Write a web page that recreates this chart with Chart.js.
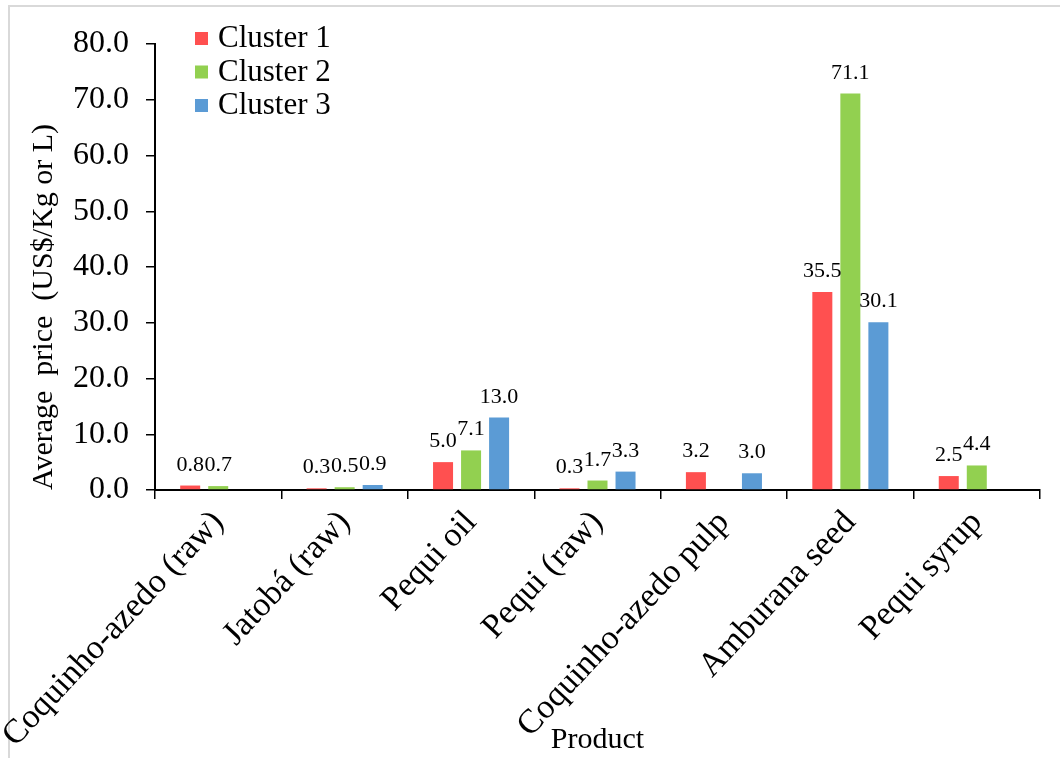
<!DOCTYPE html>
<html>
<head>
<meta charset="utf-8">
<script src="https://cdn.jsdelivr.net/npm/chart.js@4.4.1/dist/chart.umd.min.js"></script>
<style>
  html, body { margin: 0; padding: 0; background: #ffffff; }
  #wrap { position: relative; width: 1060px; height: 758px; overflow: hidden; background: #ffffff; }
  #frame { position: absolute; left: 8px; top: 5px; width: 1100px; height: 800px;
           border-left: 2px solid #d9d9d9; border-top: 2px solid #d9d9d9; box-sizing: border-box; }
  #chart { position: absolute; left: 0; top: 0; }
</style>
</head>
<body>
<div id="wrap">
  <div id="frame"></div>
  <canvas id="chart" width="1060" height="758"></canvas>
</div>
<script>
// Average price per product, by cluster (US$ per Kg or L)
const products = [
  'Coquinho-azedo (raw)',
  'Jatobá (raw)',
  'Pequi oil',
  'Pequi (raw)',
  'Coquinho-azedo pulp',
  'Amburana seed',
  'Pequi syrup'
];
const seriesNames = ['Cluster 1', 'Cluster 2', 'Cluster 3'];
const cluster1 = [0.8, 0.3, 5.0, 0.3, 3.2, 35.5, 2.5];
const cluster2 = [0.7, 0.5, 7.1, 1.7, null, 71.1, 4.4];
const cluster3 = [null, 0.9, 13.0, 3.3, 3.0, 30.1, null];
const yTicks = [0, 10, 20, 30, 40, 50, 60, 70, 80];

const seriesColors = ['#ff5050', '#92d050', '#5b9bd5'];
const SERIF = '"Liberation Serif", "Times New Roman", serif';

// Value printed above each bar
const valueLabels = {
  id: 'valueLabels',
  afterDatasetsDraw(chart) {
    const ctx = chart.ctx;
    ctx.save();
    ctx.font = '22px ' + SERIF;
    ctx.fillStyle = '#000';
    ctx.textAlign = 'center';
    ctx.textBaseline = 'alphabetic';
    chart.data.datasets.forEach((ds, di) => {
      const meta = chart.getDatasetMeta(di);
      meta.data.forEach((bar, i) => {
        const v = ds.data[i];
        if (v === null || v === undefined) return;
        ctx.fillText(v.toFixed(1), bar.x, bar.y - 15);
      });
    });
    ctx.restore();
  }
};

// Legend drawn inside the plot, top-left
const innerLegend = {
  id: 'innerLegend',
  afterDraw(chart) {
    const ctx = chart.ctx;
    const area = chart.chartArea;
    const x0 = area.left + 40;
    const y0 = area.top - 12;
    const step = 33.5;
    ctx.save();
    ctx.font = '31px ' + SERIF;
    ctx.textAlign = 'left';
    ctx.textBaseline = 'alphabetic';
    chart.data.datasets.forEach((ds, i) => {
      const yTop = y0 + i * step;
      ctx.fillStyle = ds.backgroundColor;
      ctx.fillRect(x0, yTop, 13, 13);
      ctx.fillStyle = '#000';
      ctx.fillText(ds.label, x0 + 23, yTop + 15);
    });
    ctx.restore();
  }
};

const datasets = [cluster1, cluster2, cluster3].map((vals, i) => ({
  label: seriesNames[i],
  data: vals,
  backgroundColor: seriesColors[i],
  borderWidth: 0,
  categoryPercentage: 0.665,
  barPercentage: 0.714
}));

new Chart(document.getElementById('chart'), {
  type: 'bar',
  data: { labels: products, datasets },
  plugins: [valueLabels, innerLegend],
  options: {
    responsive: false,
    animation: false,
    devicePixelRatio: 1,
    layout: { padding: { left: 0, top: 44, right: 20, bottom: 0 } },
    plugins: {
      legend: { display: false },
      tooltip: { enabled: false }
    },
    scales: {
      x: {
        grid: { offset: true, drawOnChartArea: false, drawTicks: true, tickLength: 9, color: '#000', lineWidth: 1.5 },
        border: { color: '#000', width: 2 },
        ticks: {
          autoSkip: false, maxRotation: 47, minRotation: 47, padding: 4,
          color: '#000', font: { family: SERIF, size: 34 }
        },
        title: {
          display: true, text: 'Product', color: '#000',
          font: { family: SERIF, size: 30 }, padding: { top: 0, bottom: 0 }
        },
        afterFit(scale) {
          scale.height = 268;
          scale.paddingLeft = 0;
          scale.paddingRight = 0;
        }
      },
      y: {
        min: 0, max: 80,
        afterBuildTicks(scale) { scale.ticks = yTicks.map(v => ({ value: v })); },
        grid: { drawOnChartArea: false, drawTicks: true, tickLength: 9, color: '#000', lineWidth: 1.5 },
        border: { color: '#000', width: 2 },
        ticks: {
          padding: 17, color: '#000', font: { family: SERIF, size: 32 },
          callback: v => Number(v).toFixed(1)
        },
        title: {
          display: true, text: 'Average  price  (US$/Kg or L)', color: '#000', align: 'start',
          font: { family: SERIF, size: 30 }, padding: { top: 26, bottom: 0 }
        },
        afterFit(scale) { scale.width = 155; }
      }
    }
  }
});
</script>
</body>
</html>
